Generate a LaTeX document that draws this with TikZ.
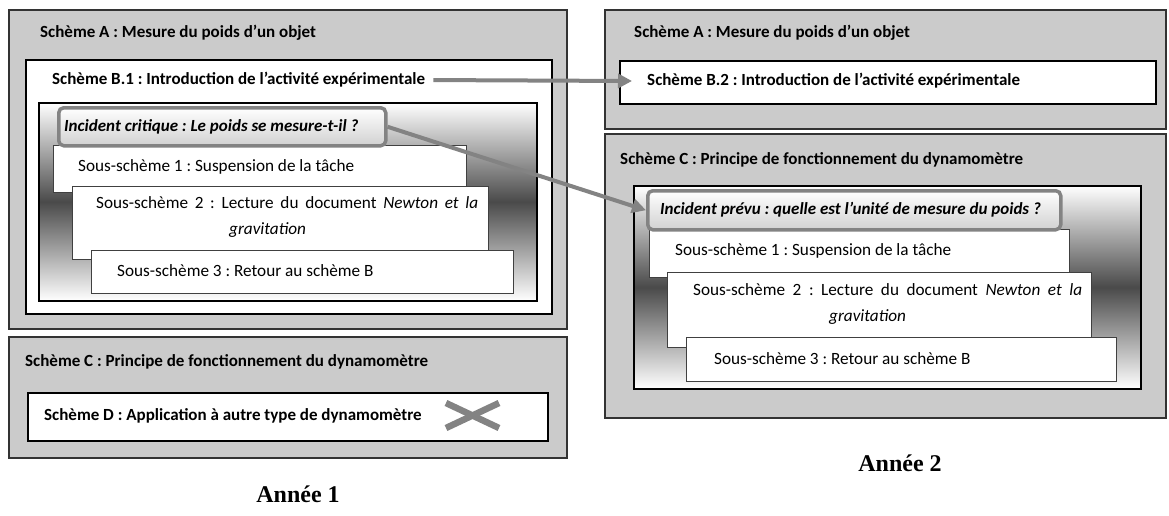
\documentclass[tikz,border=0pt]{standalone}
\usepackage{fontspec}
\setmainfont{Carlito}
\newfontfamily\yearfont{Liberation Serif}
\usetikzlibrary{arrows.meta}
\frenchspacing

\definecolor{boxgray}{HTML}{CBCBCB}
\definecolor{linegray}{HTML}{838383}
\definecolor{shadedark}{HTML}{4A4A4A}

\begin{document}
\begin{tikzpicture}[x=1pt,y=-1pt,>={Triangle[length=14pt,width=14pt]},
  outerbox/.style={draw=black!80,line width=1.8pt,fill=boxgray,anchor=north west,inner sep=0pt},
  innerbox/.style={draw=black,line width=1.6pt,fill=white,anchor=north west,inner sep=0pt},
  gradbox/.style={draw=black,line width=1.6pt,anchor=north west,inner sep=0pt,
    top color=white,bottom color=white,middle color=shadedark},
  subbox/.style={draw=black!75,line width=0.9pt,fill=white,anchor=north west,inner sep=0pt},
  incbox/.style={draw=linegray,line width=3.5pt,rounded corners=5pt,top color=white,
    bottom color=black!18,anchor=north west,inner sep=0pt},
  titletext/.style={anchor=west,inner sep=0pt,font=\fontsize{17}{20}\selectfont\bfseries},
  inctext/.style={anchor=west,inner sep=0pt,font=\fontsize{17}{20}\selectfont\bfseries\itshape},
  subtext/.style={anchor=west,inner sep=0pt,font=\fontsize{17.2}{26}\selectfont,align=left},
  yeartext/.style={inner sep=0pt,font=\fontsize{24}{28}\selectfont\yearfont\bfseries},
  link/.style={->,draw=linegray,line width=4pt}]

\useasboundingbox (0,0) rectangle (1169,515);

%% Annee 1
\node[outerbox,minimum width=558pt,minimum height=319pt] (schA1) at (8,9) {};
\node[titletext] (tA1) at (40,33) {Schème A : Mesure du poids d’un objet};
\node[innerbox,minimum width=526pt,minimum height=254pt] (schB1) at (25,59) {};
\node[titletext] (tB1) at (52,80) {Schème B.1 : Introduction de l’activité expérimentale};
\node[gradbox,minimum width=498pt,minimum height=198pt] (grad1) at (38,102) {};

% sub-schemes, stacked
\node[subbox,minimum width=413pt,minimum height=47pt] (ssA1) at (53,145) {};
\node[subtext] (tssA1) at (78,167) {Sous-schème 1 : Suspension de la tâche};
\node[subbox,minimum width=416pt,minimum height=73pt] (ssB1) at (72,186) {};
\node[subtext] (tssB1) at (96,217) {\makebox[382pt][s]{Sous-schème 2 : Lecture du document \textit{Newton et la}}\\
  \hspace*{133pt}\textit{gravitation}};
\node[subbox,minimum width=422pt,minimum height=43pt] (ssC1) at (91,250) {};
\node[subtext] (tssC1) at (117,271) {Sous-schème 3 : Retour au schème B};

\node[incbox,minimum width=327pt,minimum height=38pt] (inc1) at (57,106) {};
\node[inctext] (tinc1) at (64,127) {Incident critique : Le poids se mesure-t-il ?};

% scheme C, year 1
\node[outerbox,minimum width=558pt,minimum height=121pt] (schC1) at (8,336) {};
\node[titletext] (tC1) at (25,362) {Schème C : Principe de fonctionnement du dynamomètre};
\node[innerbox,minimum width=520pt,minimum height=48pt] (schD1) at (27,392) {};
\node[titletext] (tD1) at (44,416) {Schème D : Application à autre type de dynamomètre};
\draw[linegray,line width=6.5pt] (446,403) -- (499,428);
\draw[linegray,line width=6.5pt] (446,428) -- (499,403);

\node[yeartext] (year1) at (298,494) {Année 1};

%% Annee 2
\node[outerbox,minimum width=561pt,minimum height=119pt] (schA2) at (604,9) {};
\node[titletext] (tA2) at (634,33) {Schème A : Mesure du poids d’un objet};
\node[innerbox,minimum width=536pt,minimum height=43pt] (schB2) at (619,60) {};
\node[titletext,inner xsep=15pt] (tB2) at (632,81) {Schème B.2 : Introduction de l’activité expérimentale};

\node[outerbox,minimum width=561pt,minimum height=284pt] (schC2) at (604,133) {};
\node[titletext] (tC2) at (620,160) {Schème C : Principe de fonctionnement du dynamomètre};
\node[gradbox,minimum width=507pt,minimum height=203pt] (grad2) at (633,185) {};

\node[subbox,minimum width=420pt,minimum height=48pt] (ssA2) at (649,229) {};
\node[subtext] (tssA2) at (675,251) {Sous-schème 1 : Suspension de la tâche};
\node[subbox,minimum width=424pt,minimum height=75pt] (ssB2) at (667,272) {};
\node[subtext] (tssB2) at (693,304) {\makebox[389pt][s]{Sous-schème 2 : Lecture du document \textit{Newton et la}}\\
  \hspace*{136pt}\textit{gravitation}};
\node[subbox,minimum width=430pt,minimum height=44pt] (ssC2) at (686,337) {};
\node[subtext] (tssC2) at (714,359) {Sous-schème 3 : Retour au schème B};

\node[incbox,minimum width=413pt,minimum height=39pt] (inc2) at (646,189) {};
\node[inctext] (tinc2) at (660,210) {Incident prévu : quelle est l’unité de mesure du poids ?};

\node[yeartext] (year2) at (900,463) {Année 2};

%% links between the years
\draw[link,shorten <=8pt] (tB1.east) -- (tB2.west);
\draw[link] (inc1.east) -- (inc2.west);

\end{tikzpicture}
\end{document}
